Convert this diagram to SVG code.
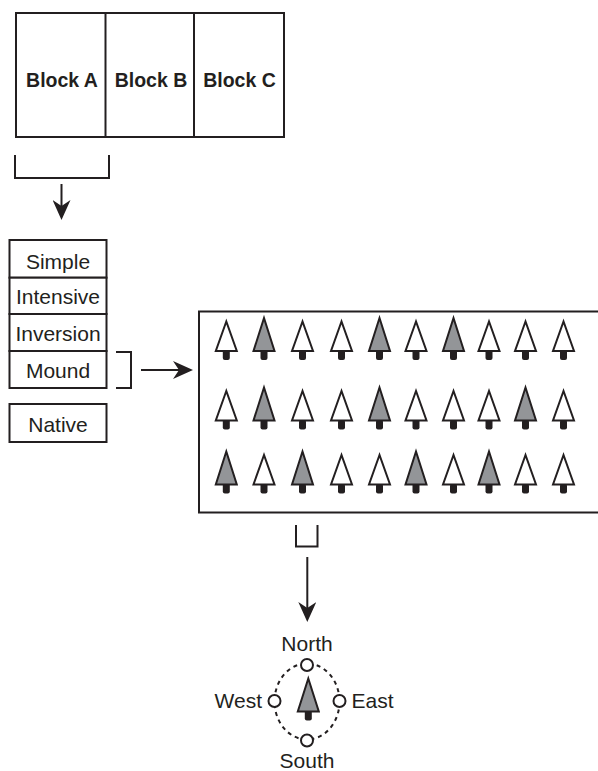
<svg xmlns="http://www.w3.org/2000/svg" xmlns:xlink="http://www.w3.org/1999/xlink" width="598" height="771" viewBox="0 0 598 771">
<style>
.box{fill:#fff;stroke:#231f20;stroke-width:2}
.ln{fill:none;stroke:#231f20;stroke-width:2}
.t{font-family:"Liberation Sans",Arial,sans-serif;font-size:21px;fill:#231f20}
.tb{font-family:"Liberation Sans",Arial,sans-serif;font-size:19.5px;font-weight:bold;fill:#231f20;text-anchor:middle}
.c{text-anchor:middle}
.tri{stroke:#231f20;stroke-width:2;stroke-linejoin:miter}
.w{fill:#fff}
.g{fill:#939598}
.trunk{fill:#231f20}
.pt{fill:#fff;stroke:#231f20;stroke-width:2}
</style>
<defs>
<marker id="ah" viewBox="0 0 20 18" refX="10" refY="9" markerWidth="20" markerHeight="18" orient="auto" markerUnits="userSpaceOnUse">
<path d="M0,0 L20,9 L0,18 L6,9 Z" fill="#231f20"/>
</marker>
<g id="tw">
<rect class="trunk" x="-3.5" y="-1" width="7" height="10" rx="2"/>
<polygon class="tri w" points="0,-29.5 -10.5,0 10.5,0"/>
</g>
<g id="tg">
<rect class="trunk" x="-3.5" y="-1" width="7" height="10" rx="2"/>
<polygon class="tri g" points="0,-33 -10.5,0 10.5,0"/>
</g>
</defs>

<g id="blocks">
<rect class="box" x="16" y="13" width="268" height="124"/>
<line class="ln" x1="105.5" y1="13" x2="105.5" y2="137"/>
<line class="ln" x1="194" y1="13" x2="194" y2="137"/>
<text class="tb" x="62" y="86.5">Block A</text>
<text class="tb" x="151" y="86.5">Block B</text>
<text class="tb" x="239.5" y="86.5">Block C</text>
</g>

<g id="list">
<rect class="box" x="9.5" y="240" width="97" height="37.7"/>
<rect class="box" x="9.5" y="277.7" width="97" height="36.3"/>
<rect class="box" x="9.5" y="314" width="97" height="37"/>
<rect class="box" x="9.5" y="351" width="97" height="37"/>
<text class="t c" x="58" y="269.3">Simple</text>
<text class="t c" x="58" y="304">Intensive</text>
<text class="t c" x="58" y="340.7">Inversion</text>
<text class="t c" x="58" y="377.7">Mound</text>
</g>

<g id="native">
<rect class="box" x="9.5" y="404" width="97" height="38"/>
<text class="t c" x="58" y="431.7">Native</text>
</g>

<g id="plot">
<rect class="box" x="199" y="311.5" width="402" height="201"/>
<use xlink:href="#tw" x="226.3" y="351"/>
<use xlink:href="#tg" x="264" y="351"/>
<use xlink:href="#tw" x="302.5" y="351"/>
<use xlink:href="#tw" x="341.5" y="351"/>
<use xlink:href="#tg" x="379.5" y="351"/>
<use xlink:href="#tw" x="416" y="351"/>
<use xlink:href="#tg" x="453.5" y="351"/>
<use xlink:href="#tw" x="489" y="351"/>
<use xlink:href="#tw" x="525.5" y="351"/>
<use xlink:href="#tw" x="563.5" y="351"/>

<use xlink:href="#tw" x="226.3" y="420.5"/>
<use xlink:href="#tg" x="264" y="420.5"/>
<use xlink:href="#tw" x="302.5" y="420.5"/>
<use xlink:href="#tw" x="341.5" y="420.5"/>
<use xlink:href="#tg" x="379.5" y="420.5"/>
<use xlink:href="#tw" x="416" y="420.5"/>
<use xlink:href="#tw" x="453.5" y="420.5"/>
<use xlink:href="#tw" x="489" y="420.5"/>
<use xlink:href="#tg" x="525.5" y="420.5"/>
<use xlink:href="#tw" x="563.5" y="420.5"/>

<use xlink:href="#tg" x="226.3" y="484.5"/>
<use xlink:href="#tw" x="264" y="484.5"/>
<use xlink:href="#tg" x="302.5" y="484.5"/>
<use xlink:href="#tw" x="341.5" y="484.5"/>
<use xlink:href="#tw" x="379.5" y="484.5"/>
<use xlink:href="#tg" x="416" y="484.5"/>
<use xlink:href="#tw" x="453.5" y="484.5"/>
<use xlink:href="#tg" x="489" y="484.5"/>
<use xlink:href="#tw" x="525.5" y="484.5"/>
<use xlink:href="#tw" x="563.5" y="484.5"/>
</g>

<g id="compass">
<ellipse cx="307" cy="701.5" rx="32.5" ry="38" fill="none" stroke="#231f20" stroke-width="2" stroke-dasharray="4,4"/>
<circle class="pt" cx="307" cy="665" r="6"/>
<circle class="pt" cx="307" cy="740.5" r="6"/>
<circle class="pt" cx="274.5" cy="701" r="6"/>
<circle class="pt" cx="339.5" cy="701" r="6"/>
<use xlink:href="#tg" x="308.3" y="711.5"/>
<text class="t c" x="307" y="650.7">North</text>
<text class="t c" x="307" y="768">South</text>
<text class="t" x="262" y="707.5" text-anchor="end">West</text>
<text class="t" x="351.5" y="707.5">East</text>
</g>

<g id="connectors">
<path class="ln" d="M15,155 V178 H109 V155"/>
<line class="ln" x1="61.5" y1="184" x2="61.5" y2="210" marker-end="url(#ah)"/>
<path class="ln" d="M116,352 H131 V388 H116"/>
<line class="ln" x1="141" y1="370" x2="183" y2="370" marker-end="url(#ah)"/>
<path class="ln" d="M296,525 V546.5 H317.5 V525"/>
<line class="ln" x1="307.3" y1="557" x2="307.3" y2="612" marker-end="url(#ah)"/>
</g>
</svg>
